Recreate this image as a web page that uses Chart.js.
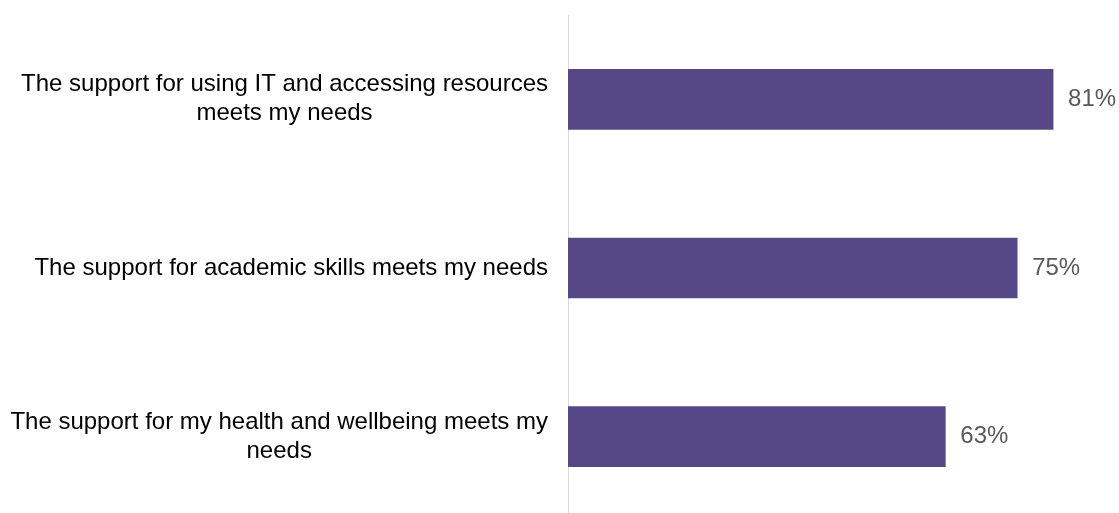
<!DOCTYPE html>
<html>
<head>
<meta charset="utf-8">
<script src="https://cdn.jsdelivr.net/npm/chart.js@4/dist/chart.umd.min.js"></script>
<style>
  html, body { margin: 0; padding: 0; background: #fff; overflow: hidden; }
</style>
</head>
<body>
<canvas id="supportChart" width="1119" height="522"></canvas>
<script>
const categories = [
  ['The support for using IT and accessing resources', 'meets my needs'],
  ['The support for academic skills meets my needs'],
  ['The support for my health and wellbeing meets my', 'needs']
];
const agreePercent = [81, 75, 63];

const FONT = "'Liberation Sans', Arial, sans-serif";

// category text drawn per label: block right-aligned, lines centred inside it
const categoryLabels = {
  id: 'categoryLabels',
  afterDraw(chart) {
    const ctx = chart.ctx;
    const yScale = chart.scales.y;
    const lineHeight = 29;
    ctx.save();
    ctx.font = '24px ' + FONT;
    ctx.fillStyle = '#000000';
    ctx.textAlign = 'center';
    ctx.textBaseline = 'middle';
    categories.forEach(function(lines, i) {
      const y = yScale.getPixelForTick(i);
      const widest = Math.max.apply(null, lines.map(function(l) { return ctx.measureText(l).width; }));
      const cx = yScale.right - 20 - widest / 2;
      lines.forEach(function(line, j) {
        ctx.fillText(line, cx, y + (j - (lines.length - 1) / 2) * lineHeight);
      });
    });
    ctx.restore();
  }
};

// percentage printed just past the end of each bar
const valueLabels = {
  id: 'valueLabels',
  afterDatasetsDraw(chart) {
    const ctx = chart.ctx;
    const meta = chart.getDatasetMeta(0);
    ctx.save();
    ctx.font = '24px ' + FONT;
    ctx.fillStyle = '#595959';
    ctx.textAlign = 'left';
    ctx.textBaseline = 'middle';
    meta.data.forEach(function(bar, i) {
      ctx.fillText(agreePercent[i] + '%', bar.x + 15, bar.y);
    });
    ctx.restore();
  }
};

new Chart(document.getElementById('supportChart'), {
  type: 'bar',
  data: {
    labels: categories,
    datasets: [{
      data: agreePercent,
      backgroundColor: '#564786',
      borderWidth: 0,
      barThickness: 60
    }]
  },
  options: {
    indexAxis: 'y',
    responsive: false,
    animation: false,
    layout: { padding: { top: 15, bottom: 1, right: 12, left: 0 } },
    plugins: {
      legend: { display: false },
      tooltip: { enabled: false }
    },
    scales: {
      x: {
        display: false,
        min: 0,
        max: 90
      },
      y: {
        grid: { display: false },
        border: { display: true, color: '#d9d9d9', width: 1 },
        ticks: { display: false },
        afterFit: function(scale) { scale.width = 568; }
      }
    }
  },
  plugins: [categoryLabels, valueLabels]
});
</script>
</body>
</html>
